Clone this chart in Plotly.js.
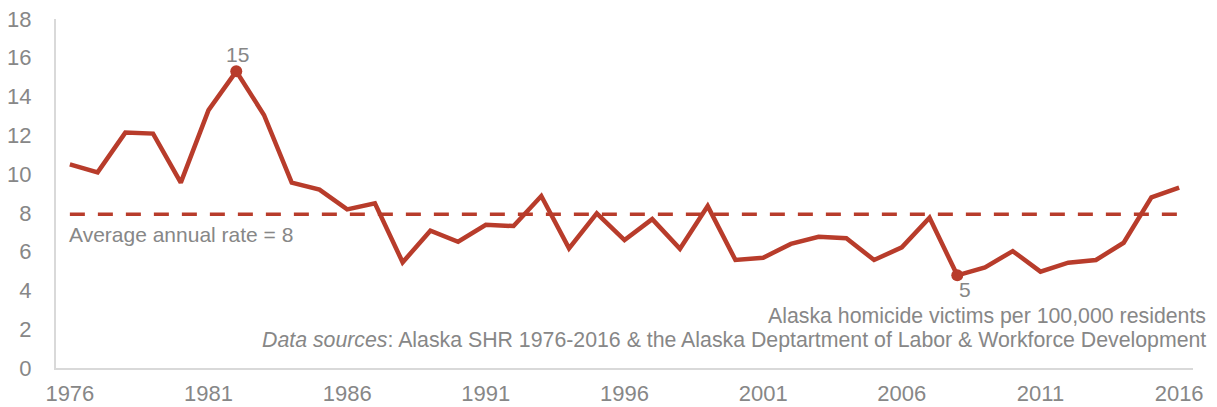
<!DOCTYPE html>
<html>
<head>
<meta charset="utf-8">
<script src="https://cdn.plot.ly/plotly-3.0.1.min.js"></script>
<style>html,body{margin:0;padding:0;background:#fff;}#chart{width:1217px;height:407px;}</style>
</head>
<body>
<div id="chart"></div>
<script>
var years = [1976,1977,1978,1979,1980,1981,1982,1983,1984,1985,1986,1987,1988,1989,1990,1991,1992,1993,1994,1995,1996,1997,1998,1999,2000,2001,2002,2003,2004,2005,2006,2007,2008,2009,2010,2011,2012,2013,2014,2015,2016];
var rates = [10.5,10.09,12.14,12.09,9.56,13.3,15.3,13.05,9.56,9.2,8.18,8.49,5.45,7.08,6.51,7.39,7.32,8.87,6.17,7.98,6.6,7.68,6.15,8.35,5.57,5.69,6.4,6.77,6.69,5.57,6.22,7.75,4.78,5.19,6.03,4.97,5.43,5.57,6.46,8.8,9.3];
var highlightYears = [1982, 2008];
var highlightRates = [15.3, 4.78];
var highlightLabels = ['15', '5'];
var avgRate = 7.93;
var avgLabel = 'Average annual rate = 8';
var tickYears = [1976,1981,1986,1991,1996,2001,2006,2011,2016];
var unitNote = 'Alaska homicide victims per 100,000 residents';
var sourceNote = '<i>Data sources</i>: Alaska SHR 1976-2016 &amp; the Alaska Deptartment of Labor &amp; Workforce Development';

var red = '#B83C2B';
var gray = '#878787';
var font = 'Liberation Sans, Arial, sans-serif';

var traces = [
  {x: [years[0], years[years.length-1]], y: [avgRate, avgRate], mode: 'lines',
   line: {color: red, width: 3.5, dash: '15px,13px'}, hoverinfo: 'skip'},
  {x: years, y: rates, mode: 'lines', line: {color: red, width: 4.5}},
  {x: highlightYears, y: highlightRates, mode: 'markers',
   marker: {color: red, size: 12}}
];

var annotations = [
  {x: years[0], y: avgRate, xref: 'x', yref: 'y', text: avgLabel, showarrow: false,
   xanchor: 'left', yanchor: 'middle', yshift: -20, xshift: -3,
   font: {family: font, size: 21, color: gray}}
];
var yShifts = [17, -14];
var xShifts = [1, 8];
highlightYears.forEach(function(yr, i){
  annotations.push({x: yr, y: highlightRates[i], xref: 'x', yref: 'y', text: highlightLabels[i],
    showarrow: false, xanchor: 'center', yanchor: 'middle', yshift: yShifts[i], xshift: xShifts[i],
    font: {family: font, size: 21, color: gray}});
});
var pw = 1217 - 56 - 24, ph = 407 - 19 - 39;
function px(x){ return (x - 56) / pw; }
function py(y){ return 1 - (y - 19) / ph; }
annotations.push({x: px(1208), y: py(316), xref: 'paper', yref: 'paper', text: unitNote, showarrow: false,
   xanchor: 'right', yanchor: 'middle', font: {family: font, size: 21.3, color: gray}});
annotations.push({x: px(1208), y: py(340), xref: 'paper', yref: 'paper', text: sourceNote, showarrow: false,
   xanchor: 'right', yanchor: 'middle', font: {family: font, size: 21.3, color: gray}});

var layout = {
  width: 1217, height: 407,
  margin: {l: 56, r: 24, t: 19, b: 39},
  paper_bgcolor: '#fff', plot_bgcolor: '#fff',
  showlegend: false,
  font: {family: font, color: gray, size: 21},
  xaxis: {range: [1975.5, 2016.5], tickvals: tickYears, ticktext: tickYears.map(String),
          showgrid: false, zeroline: false, showline: true, linecolor: '#d9d9d9', linewidth: 2,
          ticks: 'outside', ticklen: 5, tickcolor: 'rgba(0,0,0,0)',
          tickfont: {family: font, size: 22, color: gray}},
  yaxis: {range: [0, 18], dtick: 2, showgrid: false, zeroline: false, showline: true,
          linecolor: '#d9d9d9', linewidth: 2,
          ticks: 'outside', ticklen: 18, tickcolor: 'rgba(0,0,0,0)',
          tickfont: {family: font, size: 22, color: gray}},
  annotations: annotations
};
Plotly.newPlot('chart', traces, layout, {displayModeBar: false, staticPlot: true});
</script>
</body>
</html>
